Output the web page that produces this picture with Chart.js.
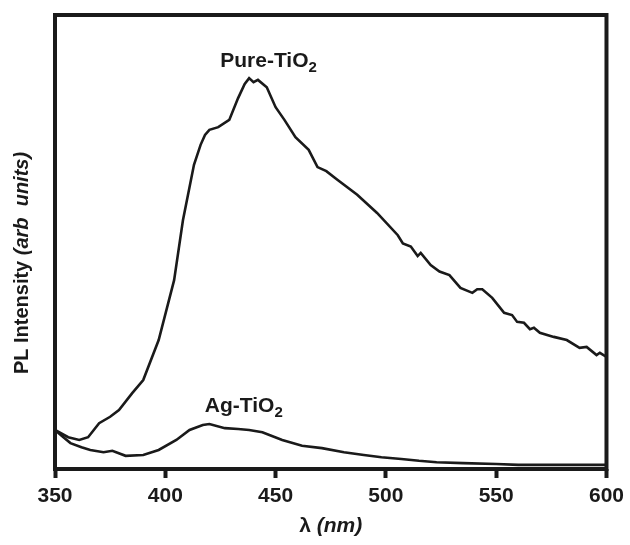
<!DOCTYPE html>
<html>
<head>
<meta charset="utf-8">
<script src="https://cdn.jsdelivr.net/npm/chart.js@4"></script>
<style>
  html, body { margin: 0; padding: 0; background: #fff; }
  #box { width: 630px; height: 545px; }
</style>
</head>
<body>
<div id="box"><canvas id="plChart"></canvas></div>
<script>
// wavelength (nm) / PL intensity (arb units)
const pureX = [350, 356, 361, 365, 370, 375, 379, 385, 390, 397, 404, 408, 413, 416, 418, 420, 424, 429, 433, 436, 438, 440, 442, 446, 450, 454, 459, 465, 469, 473, 478, 487, 496, 505.4, 507.7, 511.3, 514.4, 515.8, 520.3, 524.3, 528.8, 533.8, 539.2, 541.4, 543.7, 548.2, 553.6, 557.2, 559.5, 562.6, 565.3, 567.1, 569.8, 576.1, 582, 587.8, 591, 595.5, 597, 600];
const pureY = [8.6, 7.0, 6.4, 7.0, 10.1, 11.5, 13.0, 16.7, 19.6, 28.4, 41.6, 54.8, 67.0, 71.4, 73.6, 74.7, 75.3, 76.9, 81.7, 84.8, 86.1, 85.2, 85.7, 84.1, 79.7, 76.9, 73.1, 70.3, 66.5, 65.6, 63.7, 60.4, 56.4, 51.5, 49.7, 49.0, 46.9, 47.6, 44.9, 43.5, 42.7, 39.9, 38.8, 39.6, 39.6, 37.7, 34.4, 33.9, 32.4, 32.2, 30.8, 31.1, 30.0, 29.1, 28.4, 26.7, 26.9, 25.1, 25.6, 24.7];

const agX = [350, 353, 357, 362, 366, 372, 376, 382, 390, 397, 405, 411, 417, 420, 427, 433, 438, 444, 453, 462, 471, 481, 490, 498, 507, 515, 523, 535, 550, 560, 580, 600];
const agY = [8.6, 7.3, 5.7, 4.8, 4.2, 3.7, 4.0, 2.9, 3.1, 4.2, 6.4, 8.6, 9.7, 9.9, 9.0, 8.8, 8.6, 8.1, 6.4, 5.1, 4.6, 3.7, 3.1, 2.6, 2.2, 1.8, 1.5, 1.3, 1.1, 0.9, 0.9, 0.9];

const xTicks = [350, 400, 450, 500, 550, 600];

// label anchors (data coords)
const labelNames = [['Pure-TiO', '2'], ['Ag-TiO', '2']];
const labelAt = [[446.8, 88.5], [435.6, 12.6]];

const ink = '#1a1a1a';
const fam = '"Liberation Sans", Arial, sans-serif';

function toPts(xs, ys) {
  return xs.map((x, i) => ({ x: x, y: ys[i] }));
}

// draws pieces of text one after another, [text, font, dy]
function drawParts(ctx, parts, x, y, align) {
  let total = 0;
  parts.forEach(p => { ctx.font = p[1]; total += ctx.measureText(p[0]).width; });
  let cx = align === 'center' ? x - total / 2 : x;
  ctx.textAlign = 'left';
  parts.forEach(p => {
    ctx.font = p[1];
    ctx.fillText(p[0], cx, y + (p[2] || 0));
    cx += ctx.measureText(p[0]).width;
  });
}

const decor = {
  id: 'decor',
  afterDatasetsDraw(chart) {
    const ctx = chart.ctx;
    const a = chart.chartArea;
    const xs = chart.scales.x, ys = chart.scales.y;
    ctx.save();
    // frame
    ctx.strokeStyle = ink;
    ctx.lineWidth = 4;
    ctx.strokeRect(a.left, a.top, a.right - a.left, a.bottom - a.top);

    ctx.fillStyle = ink;
    ctx.textBaseline = 'alphabetic';
    // series labels
    labelNames.forEach((n, i) => {
      const px = xs.getPixelForValue(labelAt[i][0]);
      const py = ys.getPixelForValue(labelAt[i][1]);
      drawParts(ctx, [[n[0], 'bold 21px ' + fam], [n[1], 'bold 15px ' + fam, 5]], px, py, 'center');
    });

    // x title
    drawParts(ctx, [['λ ', 'bold 21px ' + fam], ['(nm)', 'italic bold 21px ' + fam]],
      (a.left + a.right) / 2, 532, 'center');

    // y title
    ctx.translate(28, 263);
    ctx.rotate(-Math.PI / 2);
    drawParts(ctx, [['PL Intensity ', 'bold 20px ' + fam], ['(arb  units)', 'italic bold 20px ' + fam]],
      0, 0, 'center');
    ctx.restore();
  }
};

new Chart(document.getElementById('plChart').getContext('2d'), {
  type: 'line',
  data: {
    datasets: [
      {
        label: 'Pure-TiO2',
        data: toPts(pureX, pureY),
        borderColor: ink,
        borderWidth: 2.6,
        pointRadius: 0,
        tension: 0,
        fill: false
      },
      {
        label: 'Ag-TiO2',
        data: toPts(agX, agY),
        borderColor: ink,
        borderWidth: 2.6,
        pointRadius: 0,
        tension: 0,
        fill: false
      }
    ]
  },
  options: {
    responsive: true,
    maintainAspectRatio: false,
    animation: false,
    layout: { padding: { top: 15, right: 20, left: 0, bottom: 0 } },
    plugins: {
      legend: { display: false },
      tooltip: { enabled: false }
    },
    scales: {
      x: {
        type: 'linear',
        min: 350,
        max: 600,
        afterBuildTicks: s => { s.ticks = xTicks.map(v => ({ value: v })); },
        afterFit: s => { s.height = 76; },
        border: { display: false },
        grid: {
          drawOnChartArea: false,
          drawTicks: true,
          tickLength: 9,
          tickWidth: 4,
          tickColor: ink
        },
        ticks: {
          color: ink,
          padding: 6,
          maxRotation: 0,
          font: { family: fam, size: 21, weight: 'bold' }
        }
      },
      y: {
        min: 0,
        max: 100,
        afterFit: s => { s.width = 55; },
        border: { display: false },
        grid: { display: false },
        ticks: { display: false }
      }
    }
  },
  plugins: [decor]
});
</script>
</body>
</html>
